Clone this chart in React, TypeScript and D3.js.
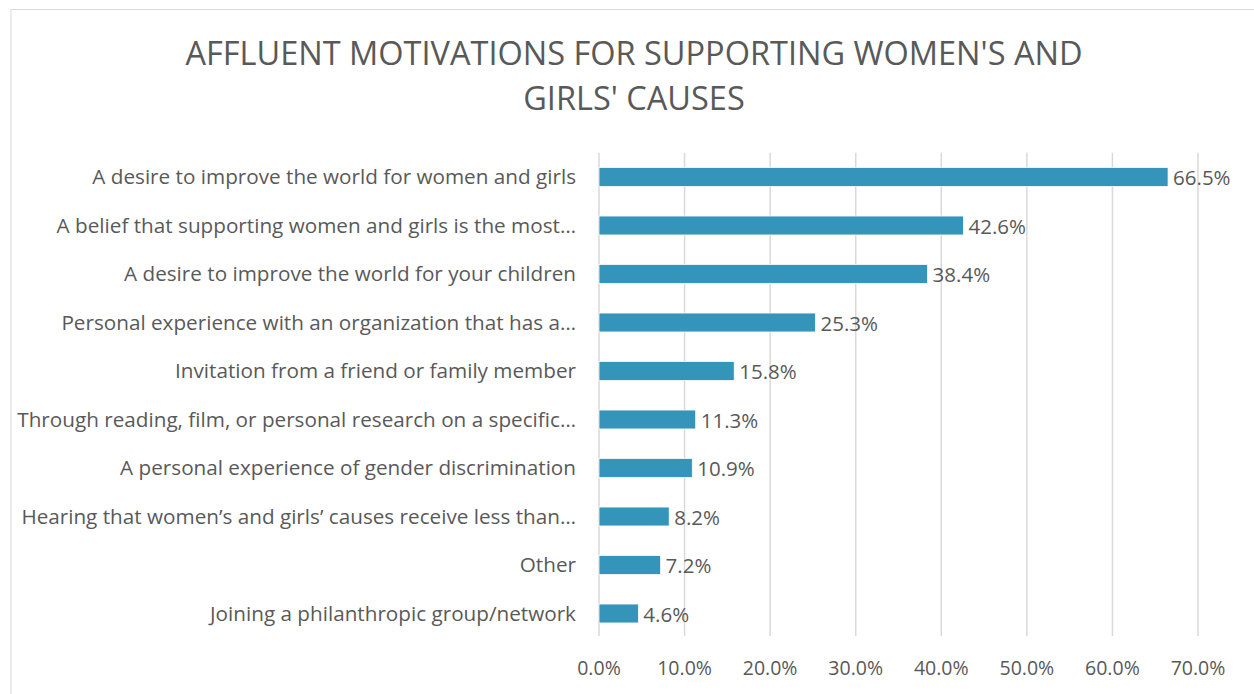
import React from "react";
import * as d3 from "d3";

const categories: string[] = [
  "A desire to improve the world for women and girls",
  "A belief that supporting women and girls is the most…",
  "A desire to improve the world for your children",
  "Personal experience with an organization that has a…",
  "Invitation from a friend or family member",
  "Through reading, film, or personal research on a specific…",
  "A personal experience of gender discrimination",
  "Hearing that women’s and girls’ causes receive less than…",
  "Other",
  "Joining a philanthropic group/network",
];
const values: number[] = [66.5, 42.6, 38.4, 25.3, 15.8, 11.3, 10.9, 8.2, 7.2, 4.6];
const ticks: number[] = [0, 10, 20, 30, 40, 50, 60, 70];
const titleLines: string[] = ["AFFLUENT MOTIVATIONS FOR SUPPORTING WOMEN'S AND", "GIRLS' CAUSES"];

const W = 1254;
const H = 694;
const FONT = "'Open Sans', 'Noto Sans', sans-serif";
const TEXT = "#595959";

export default function App() {
  const left = 599;
  const right = 1198;
  const top = 152.75;
  const bottom = 637.75;
  const x = d3.scaleLinear().domain([0, 70]).range([left, right]);
  const y = d3
    .scaleBand<string>()
    .domain(categories)
    .range([top, bottom])
    .paddingInner(0.61)
    .paddingOuter(0.305);
  const fmt = (v: number) => d3.format(".1f")(v) + "%";

  return (
    <svg
      width={W}
      height={H}
      style={{ position: "absolute", left: 0, top: 0, background: "#fff" }}
      fontFamily={FONT}
    >
      <rect x={11} y={9.5} width={W} height={H} fill="#fff" stroke="#d9d9d9" strokeWidth={1} />
      {titleLines.map((t, i) => (
        <text
          key={i}
          x={634}
          y={65 + i * 45}
          textAnchor="middle"
          fontSize={32.5}
          fill={TEXT}
        >
          {t}
        </text>
      ))}
      {ticks.map((t) => (
        <line
          key={"g" + t}
          x1={x(t)}
          x2={x(t)}
          y1={top}
          y2={636}
          stroke="#d9d9d9"
          strokeWidth={1.5}
        />
      ))}
      {ticks.map((t) => (
        <text key={"t" + t} x={x(t)} y={675} textAnchor="middle" fontSize={19.5} fill={TEXT}>
          {fmt(t)}
        </text>
      ))}
      {categories.map((c, i) => {
        const yy = y(c)!;
        const bw = y.bandwidth();
        return (
          <g key={c}>
            <text x={576} y={yy + bw / 2 + 7} textAnchor="end" fontSize={20.7} fill={TEXT}>
              {c}
            </text>
            <rect
              x={x(0)}
              y={yy}
              width={x(values[i]) - x(0)}
              height={bw}
              fill="#3494BA"
              stroke="#ffffff"
              strokeWidth={0.75}
            />
            <text x={x(values[i]) + 5} y={yy + bw / 2 + 8} fontSize={20.5} fill={TEXT}>
              {fmt(values[i])}
            </text>
          </g>
        );
      })}
    </svg>
  );
}
